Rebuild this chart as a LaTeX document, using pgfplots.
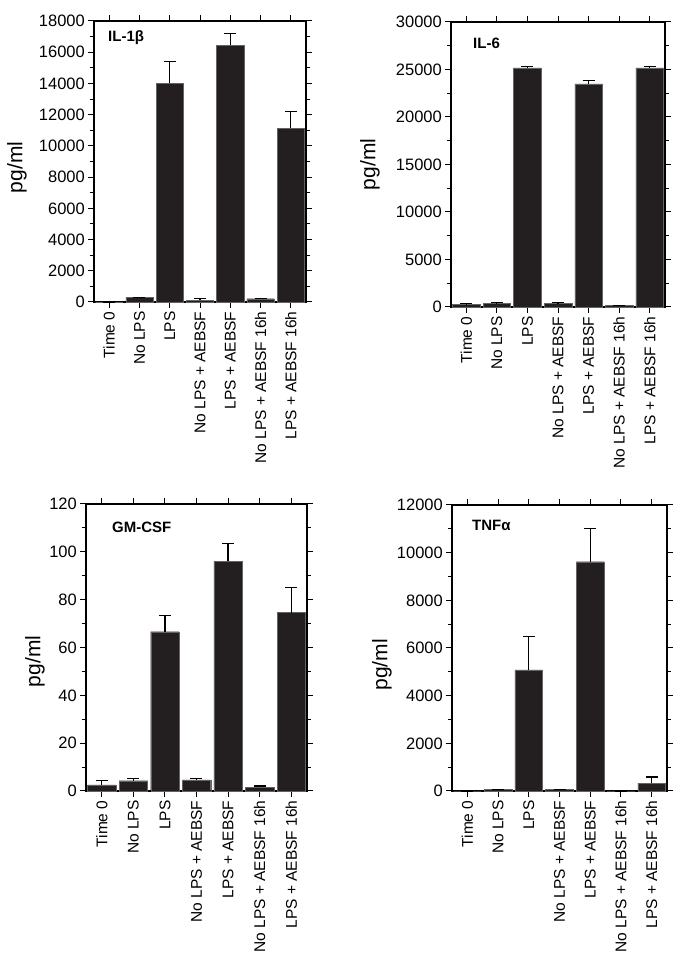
\documentclass[border=0pt]{standalone}
\usepackage{pgfplots}
\pgfplotsset{compat=1.18}
\usepackage{pgfplotstable}
\usepackage{fontspec}
\setmainfont{Liberation Sans}
\definecolor{barc}{HTML}{231F20}

\pgfplotstableread{
x y e
0 0 0
1 310 0
2 14000 1400
3 110 100
4 16450 750
5 210 0
6 11130 1070
}\tabA
\pgfplotstableread{
x y e
0 245 110
1 350 140
2 25170 170
3 350 110
4 23490 310
5 175 0
6 25170 130
}\tabB
\pgfplotstableread{
x y e
0 2.6 1.9
1 4.3 0.8
2 66.6 6.7
3 4.6 0.7
4 96.0 7.4
5 1.5 0.6
6 74.6 10.5
}\tabC
\pgfplotstableread{
x y e
0 0 0
1 70 0
2 5080 1400
3 70 0
4 9620 1400
5 0 0
6 335 250
}\tabD

\tikzset{
  ttl/.style={anchor=north west, font=\fontsize{15}{15}\selectfont\bfseries, inner sep=0pt},
  ylb/.style={rotate=90, anchor=center, inner sep=0pt, font=\fontsize{21}{21}\selectfont},
}

\pgfplotsset{
  panel/.style={
    scale only axis,
    anchor=south west,
    clip=false,
    ybar, bar width=0.9, bar shift=0pt,
    xmin=-0.5, xmax=6.5, ymin=0,
    xtick={0,...,6},
    xticklabels={Time 0, No LPS, LPS, No LPS + AEBSF, LPS + AEBSF, No LPS + AEBSF 16h, LPS + AEBSF 16h},
    xticklabel style={rotate=90, anchor=east, font=\fontsize{15.5}{15.5}\selectfont},
    yticklabel={\fontsize{16.5}{16.5}\selectfont\pgfmathprintnumber[assume math mode=true,1000 sep={}]{\tick}},
    yticklabel style={inner sep=3pt},
    scaled y ticks=false,
    tick align=outside,
    minor y tick num=1,
    major tick length=6pt,
    minor tick length=4pt,
    axis line style={line width=1.1pt},
    every tick/.style={line width=1pt, black},
    xticklabel pos=lower,
    yticklabel pos=left,
  },
  bars/.style={
    fill=barc, draw=barc!70, line width=0.4pt,
    error bars/.cd, y dir=plus, y explicit,
    error bar style={line width=1.2pt, black},
    error mark options={rotate=90, line width=1.2pt, mark size=6pt, black},
  },
}

\begin{document}
\begin{tikzpicture}
\path[use as bounding box] (0pt,0pt) rectangle (685pt,973pt);

\begin{axis}[panel, at={(94pt,671pt)}, width=212pt, height=281pt,
  ymax=18000, ytick={0,2000,...,18000}]
\addplot[bars] table[x=x, y=y, y error=e] {\tabA};
\node[ttl] at (rel axis cs:0,1) [xshift=14pt, yshift=-9pt] {IL-1β};
\node[ylb] at ([xshift=-77pt, yshift=-6pt]rel axis cs:0,0.5) {pg/ml};
\end{axis}

\begin{axis}[panel, at={(451pt,666pt)}, width=214pt, height=285pt,
  ymax=30000, ytick={0,5000,...,30000}]
\addplot[bars] table[x=x, y=y, y error=e] {\tabB};
\node[ttl] at (rel axis cs:0,1) [xshift=22pt, yshift=-16pt] {IL-6};
\node[ylb] at ([xshift=-81pt, yshift=0pt]rel axis cs:0,0.5) {pg/ml};
\end{axis}

\begin{axis}[panel, at={(86pt,182pt)}, width=221pt, height=287pt,
  ymax=120, ytick={0,20,...,120}]
\addplot[bars] table[x=x, y=y, y error=e] {\tabC};
\node[ttl] at (rel axis cs:0,1) [xshift=26pt, yshift=-18pt] {GM-CSF};
\node[ylb] at ([xshift=-51pt, yshift=-14pt]rel axis cs:0,0.5) {pg/ml};
\end{axis}

\begin{axis}[panel, at={(452pt,182pt)}, width=215pt, height=286pt,
  ymax=12000, ytick={0,2000,...,12000}]
\addplot[bars] table[x=x, y=y, y error=e] {\tabD};
\node[ttl] at (rel axis cs:0,1) [xshift=20pt, yshift=-15pt] {TNFα};
\node[ylb] at ([xshift=-70pt, yshift=-17pt]rel axis cs:0,0.5) {pg/ml};
\end{axis}
\end{tikzpicture}
\end{document}
